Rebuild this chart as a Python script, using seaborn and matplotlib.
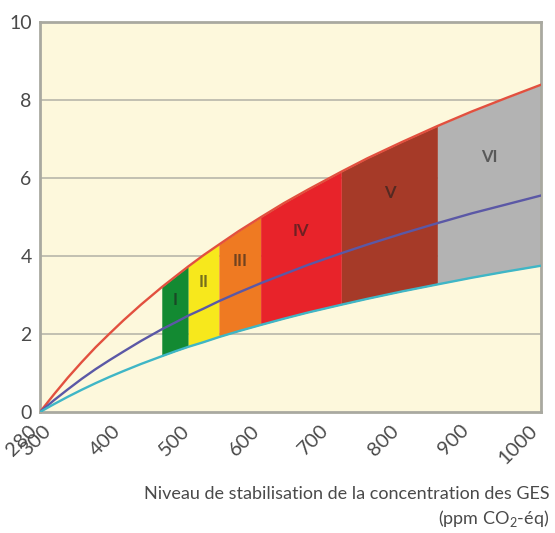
import numpy as np
import pandas as pd
import matplotlib
matplotlib.use("Agg")
import matplotlib.pyplot as plt
import seaborn as sns

# ---- data ----
ppm = [280, 300, 320, 340, 360, 380, 400, 425, 455, 475, 493, 515, 537, 565,
       597, 630, 665, 713, 750, 800, 851, 900, 950, 1000]
upper = [0, 0.45, 0.88, 1.28, 1.66, 2.01, 2.35, 2.75, 3.20, 3.48, 3.73, 4.02,
         4.29, 4.63, 4.99, 5.35, 5.70, 6.16, 6.50, 6.92, 7.33, 7.70, 8.05, 8.39]
middle = [0, 0.30, 0.58, 0.85, 1.10, 1.33, 1.55, 1.82, 2.12, 2.30, 2.47, 2.65,
          2.84, 3.06, 3.30, 3.53, 3.77, 4.07, 4.29, 4.57, 4.84, 5.09, 5.32, 5.55]
lower = [0, 0.20, 0.39, 0.57, 0.74, 0.90, 1.05, 1.23, 1.43, 1.56, 1.67, 1.79,
         1.92, 2.07, 2.23, 2.39, 2.55, 2.75, 2.90, 3.09, 3.27, 3.44, 3.60, 3.75]

categories = ["I", "II", "III", "IV", "V", "VI"]
bounds = [455, 493, 537, 597, 713, 851, 1000]
band_colors = ["#138a32", "#f7e81c", "#ef7a22", "#e8232a", "#a63a28", "#b3b3b3"]

xticks = [280, 300, 400, 500, 600, 700, 800, 900, 1000]
yticks = [0, 2, 4, 6, 8, 10]
xlabel = "Niveau de stabilisation de la concentration des GES\n(ppm CO$_2$-éq)"

# ---- styling ----
sns.set_style("white")
plt.rcParams["font.family"] = ["Lato", "DejaVu Sans"]
plt.rcParams["mathtext.fontset"] = "custom"
plt.rcParams["mathtext.rm"] = "Lato"

fig = plt.figure(figsize=(5.55, 5.33), dpi=100)
ax = fig.add_axes([0.072, 0.227, 0.903, 0.732])
ax.set_facecolor("#fdf8dc")

x = np.array(ppm)
lo = np.array(lower)
up = np.array(upper)
mid = np.array(middle)

for i, cat in enumerate(categories):
    a, b = bounds[i], bounds[i + 1]
    mask = (x >= a) & (x <= b)
    ax.fill_between(x, lo, up, where=mask, color=band_colors[i], lw=0, zorder=2)
    xc = (a + b) / 2
    yc = (np.interp(xc, x, mid) + np.interp(xc, x, up)) / 2
    ax.text(xc, yc, cat, ha="center", va="center", fontsize=12,
            fontweight="bold", color="#1e1e1e", alpha=0.6, zorder=5)

df = pd.DataFrame({
    "ppm": ppm * 3,
    "temp": upper + middle + lower,
    "curve": ["haut"] * len(ppm) + ["milieu"] * len(ppm) + ["bas"] * len(ppm),
})
sns.lineplot(data=df, x="ppm", y="temp", hue="curve", ax=ax,
             palette={"haut": "#e2503f", "milieu": "#5b58a6", "bas": "#3fb6c6"},
             linewidth=1.7, legend=False, zorder=4)

for yv in yticks[1:-1]:
    ax.axhline(yv, color="#bdbcae", lw=1.3, zorder=1)

ax.set_xlim(280, 1000)
ax.set_ylim(0, 10)
ax.set_xticks(xticks)
ax.set_yticks(yticks)
ax.set_xticklabels([str(t) for t in xticks], rotation=45, ha="right", va="top",
                   rotation_mode="default", fontsize=14.5, color="#4a4a4a")
ax.set_yticklabels([str(t) for t in yticks], fontsize=14, color="#4a4a4a")
ax.tick_params(axis="y", length=4, width=1.2, color="#a8a8a0", pad=2)
ax.tick_params(axis="x", length=0, pad=7)

for s in ax.spines.values():
    s.set_color("#a9a9a0")
    s.set_linewidth(2)

ax.set_xlabel("")
ax.set_ylabel("")
fig.text(0.99, 0.088, xlabel, ha="right", va="top", fontsize=13,
         color="#4a4a4a", linespacing=1.35)

fig.savefig("out.png", dpi=100)
